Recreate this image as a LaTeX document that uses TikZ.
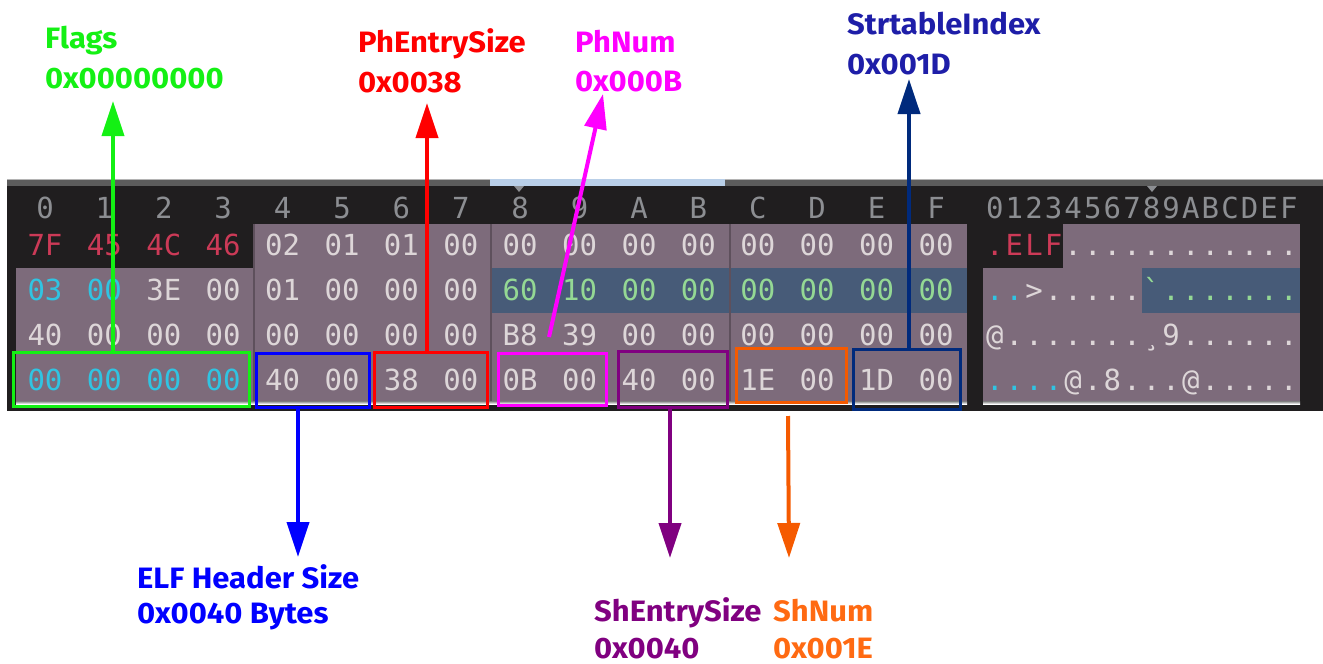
\documentclass[tikz,border=0pt]{standalone}
\usepackage{fontspec}
\setmainfont{Fira Sans}[FakeStretch=1.05]
\newfontfamily\hexfam{DejaVu Sans Mono}
\usetikzlibrary{arrows.meta,fit}

% editor panel colours
\definecolor{panel}{HTML}{201E1F}
\definecolor{bar}{HTML}{5C5C5C}
\definecolor{barline}{HTML}{B4B4B4}
\definecolor{barhi}{HTML}{B9CFE8}
\definecolor{mauve}{HTML}{7D6B7B}
\definecolor{band}{HTML}{475B78}
\definecolor{sep}{HTML}{5E505C}
\definecolor{shade}{HTML}{3A3338}
\definecolor{hdr}{HTML}{8C8E92}
\definecolor{txt}{HTML}{DDD6D8}
\definecolor{tred}{HTML}{CC3A57}
\definecolor{tcyan}{HTML}{30C4E2}
\definecolor{tgreen}{HTML}{94D894}
% annotation colours
\definecolor{cgreen}{HTML}{14F014}
\definecolor{cblue}{HTML}{0000FF}
\definecolor{cred}{HTML}{FF0000}
\definecolor{cmag}{HTML}{FF00FF}
\definecolor{cpur}{HTML}{800080}
\definecolor{corg}{HTML}{F55A00}
\definecolor{torg}{HTML}{FF6A12}
\definecolor{cnavy}{HTML}{002A7C}
\definecolor{tnavy}{HTML}{1E1EA8}

\tikzset{
  hexch/.style={font=\hexfam\fontsize{29}{34}\selectfont, anchor=base, inner sep=0pt},
  lbl/.style={font=\bfseries\fontsize{29.5}{35}\selectfont, anchor=base west, inner sep=0pt},
  hlbox/.style={draw=#1, line width=3pt, inner sep=0pt},
  ptr/.style={draw=#1, line width=4pt, -{Triangle[length=35pt,width=22pt]}},
}

% one row of hex bytes: baseline, name prefix, list of text/colour
\newcommand\hexrow[3]{%
  \foreach \t/\c [count=\i from 0] in {#3}
    {\node[hexch, text=\c] (#2-\i) at ({45+59.4*\i}, #1) {\t};}}
% one row of the character column
\newcommand\ascrow[3]{%
  \foreach \t/\c [count=\i from 0] in {#3}
    {\node[hexch, text=\c] (#2-\i) at ({985+19.6*(\i+0.5)}, #1) {\t};}}

\begin{document}
\begin{tikzpicture}[x=1pt,y=-1pt]
\useasboundingbox (0,0) rectangle (1323,664);

% panel and top scroll bar
\fill[panel] (7,186) rectangle (1323,411);
\fill[bar] (7,179) rectangle (1323,186);
\draw[barline, line width=1pt] (7,179) -- (1323,179);
\fill[barhi] (490,179) rectangle (725,186);
\fill[hdr] (514,186) -- (524,186) -- (519,192) -- cycle;
\fill[hdr] (1147,186) -- (1157,186) -- (1152,192) -- cycle;

% cell backgrounds
\fill[mauve] (254,224) rectangle (967,268);
\fill[mauve] (16,268) rectangle (967,401);
\fill[band] (491,268) rectangle (967,313);
\fill[shade] (16,401) rectangle (967,404);
\fill[mauve] (1063,224) rectangle (1300,268);
\fill[mauve] (983,268) rectangle (1300,401);
\fill[band] (1142,268) rectangle (1300,313);
\fill[shade] (983,401) rectangle (1300,404);
\foreach \x in {254,491,730}
  \draw[sep, line width=1.2pt] (\x,224) -- (\x,401);

% column headers
\foreach \t [count=\i from 0] in {0,1,2,3,4,5,6,7,8,9,A,B,C,D,E,F}
  {\node[hexch, text=hdr] (hh-\i) at ({45+59.4*\i}, 218) {\t};}
\foreach \t [count=\i from 0] in {0,1,2,3,4,5,6,7,8,9,A,B,C,D,E,F}
  {\node[hexch, text=hdr] (ah-\i) at ({985+19.6*(\i+0.5)}, 218) {\t};}

% hex bytes
\hexrow{255}{hA}{7F/tred,45/tred,4C/tred,46/tred,02/txt,01/txt,01/txt,00/txt,00/txt,00/txt,00/txt,00/txt,00/txt,00/txt,00/txt,00/txt}
\hexrow{300}{hB}{03/tcyan,00/tcyan,3E/txt,00/txt,01/txt,00/txt,00/txt,00/txt,60/tgreen,10/tgreen,00/tgreen,00/tgreen,00/tgreen,00/tgreen,00/tgreen,00/tgreen}
\hexrow{345}{hC}{40/txt,00/txt,00/txt,00/txt,00/txt,00/txt,00/txt,00/txt,B8/txt,39/txt,00/txt,00/txt,00/txt,00/txt,00/txt,00/txt}
\hexrow{390}{hD}{00/tcyan,00/tcyan,00/tcyan,00/tcyan,40/txt,00/txt,38/txt,00/txt,0B/txt,00/txt,40/txt,00/txt,1E/txt,00/txt,1D/txt,00/txt}

% character column
\ascrow{255}{aA}{./tred,E/tred,L/tred,F/tred,./txt,./txt,./txt,./txt,./txt,./txt,./txt,./txt,./txt,./txt,./txt,./txt}
\ascrow{300}{aB}{./tcyan,./tcyan,>/txt,./txt,./txt,./txt,./txt,./txt,\char"60/tgreen,./tgreen,./tgreen,./tgreen,./tgreen,./tgreen,./tgreen,./tgreen}
\ascrow{345}{aC}{@/txt,./txt,./txt,./txt,./txt,./txt,./txt,./txt,¸/txt,9/txt,./txt,./txt,./txt,./txt,./txt,./txt}
\ascrow{390}{aD}{./tcyan,./tcyan,./tcyan,./tcyan,@/txt,./txt,8/txt,./txt,./txt,./txt,@/txt,./txt,./txt,./txt,./txt,./txt}

% highlighted fields
\node[hlbox=cgreen, fit={(13.5,352.5) (249.5,406.5)}] (flagsBox) {};
\node[hlbox=cblue, fit={(256.5,353.5) (369.5,407.5)}] (ehsBox) {};
\node[hlbox=cred, fit={(374.5,352.5) (487.5,407.5)}] (pheBox) {};
\node[hlbox=cmag, fit={(498.5,353.5) (606.5,405.5)}] (phnBox) {};
\node[hlbox=cpur, fit={(618.5,351.5) (727.5,407.5)}] (sheBox) {};
\node[hlbox=corg, fit={(736.5,348.5) (846.5,402.5)}] (shnBox) {};
\node[hlbox=cnavy, fit={(853.5,349.5) (960.5,409.5)}] (strBox) {};

% field labels
\node[lbl, text=cgreen] (flagsName) at (45,48) {Flags};
\node[lbl, text=cgreen] (flagsVal) at (45,88) {0x00000000};
\node[lbl, text=cred] (pheName) at (358,52) {PhEntrySize};
\node[lbl, text=cred] (pheVal) at (358,92) {0x0038};
\node[lbl, text=cmag] (phnName) at (575,52) {PhNum};
\node[lbl, text=cmag] (phnVal) at (575,91) {0x000B};
\node[lbl, text=tnavy] (strName) at (847,34) {StrtableIndex};
\node[lbl, text=tnavy] (strVal) at (847,74) {0x001D};
\node[lbl, text=cblue] (ehsName) at (137,588) {ELF Header Size};
\node[lbl, text=cblue] (ehsVal) at (137,623) {0x0040 Bytes};
\node[lbl, text=cpur] (sheName) at (594,621) {ShEntrySize};
\node[lbl, text=cpur] (sheVal) at (594,658) {0x0040};
\node[lbl, text=torg] (shnName) at (773,621) {ShNum};
\node[lbl, text=torg] (shnVal) at (773,658) {0x001E};

% arrow tips
\coordinate (flagsTip) at (113,101);
\coordinate (pheTip) at (427,103);
\coordinate (phnTip) at (603,94);
\coordinate (strTip) at (909,79);
\coordinate (ehsTip) at (298,557);
\coordinate (sheTip) at (670,558);
\coordinate (shnTip) at (789,558);

% pointers
\draw[ptr=cgreen] (flagsBox.north -| flagsTip) -- (flagsTip);
\draw[ptr=cred] (pheBox.north -| pheTip) -- (pheTip);
\draw[ptr=cmag] ([xshift=52pt,yshift=15pt]phnBox.north west) -- (phnTip);
\draw[ptr=cnavy] (strBox.north -| strTip) -- (strTip);
\draw[ptr=cblue] (ehsBox.south -| ehsTip) -- (ehsTip);
\draw[ptr=cpur] (sheBox.south -| sheTip) -- (sheTip);
\draw[ptr=corg] ([xshift=-3.5pt,yshift=-12pt]shnBox.south) -- (shnTip);
\end{tikzpicture}
\end{document}
